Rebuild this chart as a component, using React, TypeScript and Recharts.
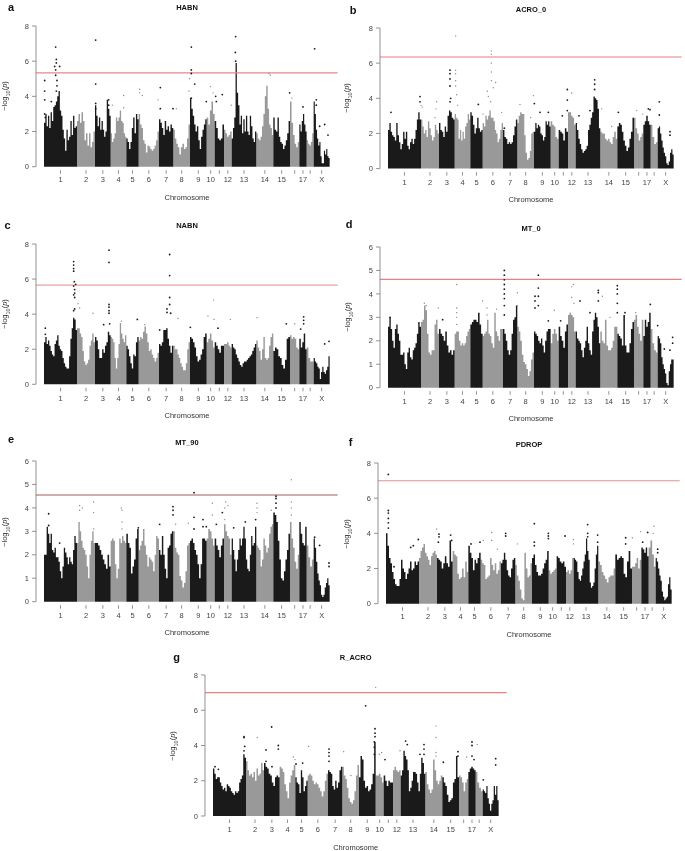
import { Area, ComposedChart, ReferenceLine, Scatter, XAxis, YAxis } from 'recharts'

// chromosome sizes, in 1/3 px of the plot
const CHR_LABELS = ['1', '2', '3', '4', '5', '6', '7', '8', '9', '10', '', '12', '13', '14', '15', '', '17', '', 'X']
const CHR_SIZES = [99, 54, 47, 47, 37, 61, 43, 50, 50, 24, 28, 23, 74, 51, 50, 28, 22, 21, 48]

const DARK = '#1a1a1a'
const GREY = '#999999'
const FONT = '"Liberation Sans", Arial, sans-serif'

// upper edge of the dense mass, one list per chromosome
const HABN_EDGE = [
  [2.5, 3.0, 2.3, 2.9, 2.2, 3.1, 2.6, 3.4, 3.5, 3.7, 4.0, 4.3, 3.2, 2.9, 2.1, 1.6, 0.9, 2.1, 1.5, 1.7, 2.6, 1.8, 2.9, 2.2, 2.3],
  [2.6, 3.0, 2.5, 3.1, 2.6, 1.5, 1.9, 1.2, 1.9, 1.1, 1.4, 2.0],
  [3.5, 2.9, 2.3, 2.8, 2.1, 2.6, 2.1, 1.7, 2.0, 3.8, 3.3, 2.9],
  [1.9, 1.4, 1.6, 1.9, 2.8, 2.6, 2.8, 3.2, 2.6, 2.5, 1.9, 1.7],
  [1.6, 1.4, 1.0, 1.4, 2.2, 2.8, 1.9, 3.0, 2.7],
  [3.0, 2.4, 2.2, 1.5, 1.3, 0.8, 1.2, 1.15, 1.0, 0.9, 1.0, 1.2, 1.5, 2.0],
  [2.7, 2.5, 2.2, 1.8, 2.6, 2.1, 2.3, 2.0, 2.4, 2.2],
  [2.1, 1.6, 1.3, 1.1, 0.7, 1.1, 1.3, 1.0, 1.1, 1.6, 2.4],
  [3.9, 3.3, 2.9, 2.4, 2.0, 2.3, 1.5, 1.0, 1.7, 2.1, 2.4, 2.7],
  [2.8, 2.4, 3.2, 3.7, 3.0],
  [2.6, 2.2, 1.6, 1.5, 1.6, 2.4],
  [2.1, 1.9, 1.7, 1.8, 2.0],
  [1.6, 2.2, 2.8, 5.9, 4.2, 3.5, 2.4, 2.9, 1.9, 2.7, 2.0, 2.9, 2.0, 1.8, 2.9, 2.3, 1.6, 1.4, 2.0],
  [1.9, 1.6, 1.5, 1.7, 2.3, 3.0, 4.0, 4.6, 3.3, 2.4, 2.2, 1.8],
  [2.8, 2.1, 2.0, 2.8, 1.7, 1.4, 1.3, 1.0, 1.2, 1.5, 1.9, 2.6],
  [3.7, 2.5, 1.8, 1.3, 1.1, 1.4],
  [2.4, 2.0, 2.6, 3.0, 2.4, 2.0],
  [1.5, 1.3, 1.2, 1.4, 1.9],
  [3.7, 3.0, 2.1, 1.6, 1.2, 1.4, 0.6, 0.2, 0.2, 0.9, 0.7, 1.0, 0.6, 0.5],
]
const ACRO_EDGE = [
  [2.2, 2.6, 2.1, 1.9, 1.8, 1.6, 2.6, 1.9, 1.5, 1.1, 1.4, 2.1, 1.7, 2.1, 1.3, 1.1, 1.5, 1.7, 1.4, 1.7, 2.2, 2.8, 3.2, 2.8],
  [2.8, 2.4, 2.0, 2.2, 1.8, 2.7, 2.3, 1.9, 1.6, 1.8, 2.5, 2.2, 2.0],
  [2.6, 2.2, 2.1, 1.8, 2.4, 2.1, 3.0, 3.3, 3.2, 2.9, 2.8],
  [3.1, 2.9, 2.8, 1.7, 2.2, 1.6, 2.1, 1.7, 2.4, 2.6, 3.1, 2.8],
  [3.2, 3.0, 2.5, 2.0, 2.3, 2.9, 2.3, 2.1, 2.2],
  [2.6, 2.4, 3.0, 2.8, 3.0, 3.3, 2.9, 2.9, 2.7, 2.2, 2.0, 1.5, 1.7, 2.2, 2.6],
  [2.2, 1.8, 1.7, 1.4, 1.5, 1.4, 1.5, 1.9, 2.4, 2.8],
  [2.6, 3.0, 3.2, 3.1, 3.1, 1.9, 0.9, 0.5, 0.6, 1.0, 2.0, 2.1],
  [2.1, 2.6, 2.3, 2.5, 2.4, 2.0, 1.9, 1.6, 1.8, 2.7, 2.5, 2.7, 2.4],
  [2.7, 2.5, 2.4, 1.8, 1.7],
  [2.2, 2.1, 2.0, 1.6, 2.3, 2.1],
  [3.2, 3.2, 3.0, 2.9, 2.5],
  [2.6, 2.2, 1.7, 1.4, 1.1, 0.9, 1.0, 1.1, 1.3, 2.2, 2.5, 2.9, 3.2, 4.1, 4.0, 3.9, 3.4, 2.3],
  [2.1, 2.0, 2.0, 1.7, 1.6, 1.7, 1.5, 1.4, 1.8, 2.1, 1.7],
  [2.4, 2.6, 2.5, 2.1, 1.6, 1.3, 1.0, 1.2, 1.7, 2.1, 2.9],
  [2.9, 2.3, 2.0, 1.6, 1.8, 2.0],
  [2.5, 2.7, 3.0, 2.7, 2.5],
  [2.5, 1.8, 1.4, 1.5],
  [2.3, 2.4, 2.0, 1.6, 1.2, 0.9, 0.7, 0.3, 0.2, 0.4, 0.9, 1.1, 0.8],
]
const NABN_EDGE = [
  [2.4, 2.7, 2.3, 2.5, 2.2, 1.9, 1.7, 1.6, 2.3, 2.5, 2.8, 2.2, 2.0, 1.9, 1.5, 1.2, 1.0, 0.9, 0.9, 1.6, 2.6, 3.2, 3.8, 3.7, 3.1],
  [3.2, 3.2, 2.9, 2.7, 1.9, 1.3, 1.1, 1.2, 1.4, 2.2, 2.5, 2.9, 2.4],
  [2.7, 2.5, 2.0, 1.5, 1.5, 2.0, 1.8, 2.2, 2.4, 3.0, 2.8],
  [2.7, 2.6, 2.4, 1.5, 0.9, 1.5, 2.3, 3.5, 2.9, 2.6, 2.4, 2.8],
  [2.2, 2.0, 1.6, 1.2, 0.9, 1.7, 1.6, 2.4, 2.7],
  [2.5, 2.7, 2.6, 3.0, 3.3, 2.9, 2.4, 1.9, 2.0, 1.7, 1.5, 1.3, 1.5, 1.8],
  [2.3, 2.2, 2.4, 3.1, 3.1, 3.2, 2.6, 2.2, 1.8, 2.2],
  [2.2, 2.0, 2.0, 1.7, 1.5, 1.2, 1.0, 0.8, 0.8, 1.2, 2.0, 2.4],
  [2.7, 2.6, 2.4, 2.1, 1.6, 1.3, 1.4, 1.7, 2.0, 2.7, 2.9],
  [2.4, 2.6, 2.9, 2.5, 2.1],
  [2.4, 2.2, 2.0, 1.8, 2.2, 2.2],
  [2.3, 2.3, 2.4, 2.2, 2.1],
  [2.3, 2.1, 2.0, 1.7, 1.5, 1.3, 1.1, 1.0, 1.2, 1.3, 1.3, 1.4, 1.5, 1.6, 1.7, 1.9, 2.1, 2.3],
  [2.5, 2.1, 1.9, 1.4, 2.0, 2.7, 1.5, 1.4, 1.5, 2.2, 2.7, 2.9],
  [1.9, 2.1, 2.0, 1.6, 1.5, 1.1, 0.9, 1.4, 2.6, 2.7],
  [2.8, 2.6, 2.7, 2.6, 2.1, 2.0],
  [2.6, 2.1, 2.4, 2.9, 2.0],
  [2.1, 1.5, 1.3, 1.3],
  [1.5, 1.3, 1.2, 1.0, 0.9, 0.3, 0.7, 1.0, 0.7, 0.6, 0.8, 1.0, 1.6],
]
const MT0_EDGE = [
  [2.6, 3.0, 2.5, 2.0, 1.7, 2.5, 2.7, 2.3, 2.0, 1.4, 1.4, 1.5, 1.0, 0.8, 1.5, 1.7, 1.3, 1.2, 1.6, 1.7, 1.9, 2.3, 2.8, 2.6],
  [2.8, 2.9, 3.5, 3.3, 2.3, 1.5, 1.4, 1.6, 1.6, 2.7, 2.9, 2.3],
  [2.5, 2.3, 2.2, 2.0, 2.4, 1.8, 1.5, 1.6, 1.4, 1.6],
  [2.3, 2.4, 2.4, 2.0, 1.8, 1.9, 1.8, 1.9, 2.2, 2.4, 2.5],
  [2.7, 2.8, 2.9, 2.9, 2.8, 3.2, 2.7, 2.3],
  [2.2, 2.3, 2.4, 2.9, 2.3, 2.2, 1.9, 1.7, 3.2, 2.4, 2.2, 2.0, 2.5, 2.5],
  [2.5, 2.3, 2.0, 1.6, 1.4, 1.6, 2.3, 2.9, 3.0, 3.5],
  [2.6, 2.4, 2.0, 1.4, 1.1, 1.0, 0.8, 0.5, 0.7, 1.2, 1.5],
  [2.4, 2.3, 2.2, 2.0, 1.9, 2.1, 1.8, 1.5, 2.0, 2.4, 2.5, 2.5],
  [1.9, 2.3, 2.5, 2.3, 2.0],
  [2.6, 2.2, 2.0, 1.7, 2.4, 2.7],
  [3.1, 3.2, 3.1, 3.0, 2.4],
  [2.4, 2.1, 2.0, 1.9, 1.6, 1.3, 1.7, 2.0, 2.6, 1.9, 1.6, 1.4, 2.4, 2.9, 3.2, 3.0, 2.6, 1.9],
  [2.4, 2.0, 1.9, 2.9, 1.8, 1.6, 1.6, 1.7, 2.0, 2.6, 2.6],
  [2.3, 2.2, 2.1, 1.8, 3.1, 1.8, 1.5, 1.5, 1.9, 2.5, 2.8],
  [2.9, 3.1, 2.6, 2.3, 2.0, 2.9],
  [2.2, 2.9, 2.6, 2.8, 3.2],
  [2.5, 1.9, 1.6, 1.5],
  [2.2, 2.1, 1.9, 1.3, 1.0, 0.8, 0.6, 0.2, 0.1, 0.7, 1.0, 1.2, 1.2],
]
const MT90_EDGE = [
  [2.0, 2.0, 3.2, 2.9, 2.5, 2.9, 2.2, 2.1, 2.3, 1.9, 1.9, 1.7, 1.3, 1.0, 1.5, 2.3, 2.1, 1.9, 1.6, 1.9, 1.7, 1.6, 2.2, 2.8, 2.5],
  [2.5, 3.4, 3.0, 2.6, 2.3, 2.2, 2.0, 1.5, 1.0, 2.0, 2.6, 3.0, 2.5],
  [2.5, 2.5, 2.4, 2.2, 2.0, 1.8, 1.6, 1.4, 2.0, 1.5],
  [2.6, 2.7, 2.6, 1.6, 1.0, 1.4, 2.7, 2.5, 2.8, 2.6, 2.5],
  [2.9, 2.5, 2.3, 1.2, 1.5, 1.8, 2.7, 3.1],
  [2.2, 2.4, 2.6, 3.1, 2.4, 2.0, 1.5, 1.9, 1.8, 1.7, 1.3, 2.0, 2.8, 2.7],
  [2.2, 2.0, 2.8, 2.0, 1.4, 1.0, 2.3, 2.4, 2.9, 3.0],
  [3.0, 2.3, 2.1, 2.0, 1.1, 0.9, 0.6, 0.8, 1.3, 2.4, 2.5],
  [2.6, 2.7, 2.5, 2.2, 2.0, 1.6, 1.0, 1.6, 2.7, 2.7, 2.6],
  [2.7, 3.1, 3.0, 2.7, 2.4],
  [2.7, 2.4, 2.2, 1.9, 2.4, 2.7],
  [3.3, 3.0, 2.8, 2.7, 2.0],
  [2.7, 2.2, 1.8, 1.3, 1.8, 2.2, 2.7, 2.4, 2.7, 3.2, 2.7, 1.8, 1.4, 1.3, 2.0, 2.8, 2.4, 2.5, 3.2],
  [2.4, 2.3, 2.2, 1.5, 1.8, 2.7, 2.4, 2.1, 2.3, 2.9, 3.2, 3.3],
  [3.8, 3.7, 3.4, 2.6, 1.8, 1.0, 0.9, 1.3, 1.8, 2.2, 2.9],
  [3.4, 2.7, 2.3, 1.7, 1.4, 2.0],
  [3.4, 2.9, 2.5, 2.4, 3.2],
  [2.4, 1.9, 1.5, 1.8],
  [2.7, 2.3, 1.7, 1.2, 0.9, 0.7, 0.3, 0.2, 0.3, 0.6, 0.8, 1.0, 0.7],
]
const PDROP_EDGE = [
  [4.0, 3.3, 2.6, 2.3, 1.8, 1.4, 1.1, 1.0, 1.0, 1.4, 2.5, 2.0, 1.8, 1.4, 1.7, 2.0, 2.4, 1.9, 2.0, 2.4, 2.2, 2.4],
  [2.6, 3.0, 3.2, 3.4, 2.9, 2.7, 2.5, 2.2, 2.7, 2.9, 3.0, 2.8],
  [2.6, 2.5, 2.4, 2.0, 2.3, 2.7, 2.3, 2.1, 3.6, 2.4],
  [3.0, 2.8, 2.7, 1.7, 1.4, 1.5, 2.0, 1.5, 2.4, 1.8],
  [3.3, 2.9, 2.6, 1.9, 2.5, 2.3, 2.6, 2.9],
  [2.5, 2.3, 2.2, 1.4, 1.5, 1.6, 2.6, 2.2, 1.9, 2.3, 1.7, 1.9, 2.4],
  [2.3, 2.5, 2.9, 2.5, 1.9, 1.6, 1.5, 2.0, 2.5, 2.6],
  [2.2, 1.6, 1.3, 0.8, 0.3, 0.2, 2.9, 2.0, 1.5, 1.6, 2.3],
  [2.6, 2.8, 2.2, 1.8, 1.6, 1.6, 1.7, 2.0, 2.3, 2.5, 3.0],
  [1.9, 1.7, 1.8, 1.9, 2.0],
  [2.7, 2.6, 2.4, 2.3, 2.4, 2.1],
  [1.8, 1.9, 1.7, 1.9, 2.6],
  [2.6, 2.5, 2.4, 1.8, 1.4, 1.3, 1.6, 2.0, 2.4, 2.8, 3.7, 3.0, 2.5, 1.2, 0.9, 1.0, 1.2, 2.0, 2.8, 3.3],
  [2.4, 2.2, 1.8, 1.6, 1.4, 1.2, 1.5, 1.6, 1.6, 2.0],
  [2.8, 2.5, 2.6, 2.7, 2.6, 1.7, 1.5, 2.4, 3.0, 2.0],
  [2.1, 2.1, 2.3, 2.6, 2.0, 2.5],
  [3.2, 3.1, 2.9, 3.2, 2.7],
  [3.2, 3.6, 2.8, 2.1],
  [2.6, 2.4, 2.0, 1.6, 1.3, 0.7, 0.4, 0.2, 0.3, 0.4, 1.1, 1.5, 0.8],
]
const RACRO_EDGE = [
  [2.7, 2.4, 2.1, 2.2, 2.2, 1.9, 1.7, 1.5, 1.6, 1.4, 1.8, 1.7, 1.6, 1.4, 1.3, 1.2, 1.4, 1.3, 1.4, 1.9, 2.1, 2.3, 3.5, 3.3],
  [3.1, 2.6, 2.3, 2.4, 2.2, 2.5, 2.0, 2.7, 2.3, 2.4, 3.0, 2.6],
  [3.0, 2.8, 2.7, 2.4, 2.3, 1.9, 1.7, 2.2, 2.3, 2.2],
  [2.8, 2.7, 2.5, 1.8, 1.4, 1.0, 1.9, 2.3, 2.6, 2.9],
  [2.2, 1.9, 1.8, 1.3, 2.6, 2.2, 1.4, 1.7, 2.0],
  [2.3, 2.4, 2.3, 2.0, 1.8, 1.9, 1.8, 1.6, 1.4, 1.1, 1.4, 2.0, 2.4],
  [2.6, 2.5, 2.4, 1.7, 1.5, 2.0, 1.6, 1.9, 2.6, 2.8],
  [2.8, 2.3, 2.1, 1.6, 1.0, 0.8, 0.7, 0.9, 1.4, 2.3, 2.9],
  [2.2, 3.4, 3.2, 2.0, 1.6, 1.7, 1.4, 1.5, 1.8, 2.4, 4.2],
  [2.3, 2.3, 2.4, 2.2, 1.9],
  [2.3, 2.0, 1.7, 2.0, 1.9, 1.9],
  [2.6, 2.8, 2.6, 2.5, 2.6],
  [2.3, 2.6, 3.7, 3.4, 3.2, 2.6, 1.4, 1.6, 2.0, 2.5, 2.5, 2.4, 1.9, 1.4, 2.4, 3.3, 3.0, 2.4],
  [2.5, 1.8, 1.5, 1.3, 1.5, 3.2, 2.6, 2.0, 1.8, 2.0, 2.3],
  [2.2, 1.9, 1.7, 1.2, 0.8, 0.9, 1.0, 1.9, 2.1, 3.4, 2.2],
  [2.3, 2.2, 1.9, 1.4, 1.9, 2.1],
  [2.5, 2.7, 2.8, 2.7, 2.6],
  [2.5, 1.9, 1.6, 1.4],
  [1.5, 1.4, 1.3, 1.7, 1.0, 0.7, 0.3, 0.7, 0.9, 1.7, 1.2, 1.7, 0.9],
]

// points standing clear of the mass: [position as read, -log10 p]
const HABN_HITS = [[135,4.9],[135,4.3],[135,3.8],[135,3.0],[137,2.8],[155,3.7],[168,6.8],[170,6.1],[170,5.9],[165,5.7],[180,5.7],[168,5.5],[168,5.2],[172,4.9],[172,4.6],[170,4.3],[288,7.2],[288,4.7],[288,3.6],[288,3.3],[327,3.8],[327,3.5],[338,3.5],[372,4.05],[372,3.35],[420,4.4],[420,4.2],[428,4.05],[475,3.8],[482,4.5],[482,3.3],[520,3.3],[530,3.3],[575,6.8],[575,5.5],[575,5.3],[570,5.0],[585,4.7],[568,4.3],[575,3.9],[620,3.7],[632,4.55],[640,4.2],[648,4.0],[650,3.7],[668,4.1],[695,3.5],[708,7.4],[707,6.5],[708,6.0],[808,5.3],[812,5.2],[870,4.2],[877,3.9],[910,3.4],[945,6.7],[950,3.8],[950,3.5],[975,2.4],[985,1.8],[960,2.3]]
const ACRO_HITS = [[148,3.2],[235,4.1],[235,3.8],[238,3.6],[242,3.5],[285,3.8],[283,3.4],[280,2.9],[325,5.6],[325,5.4],[325,5.1],[325,4.7],[327,4.0],[325,3.8],[342,7.55],[342,5.6],[342,5.4],[342,5.0],[342,4.7],[345,4.2],[348,3.6],[410,3.65],[424,3.1],[437,4.4],[440,4.1],[449,6.7],[449,6.5],[449,6.0],[449,5.5],[449,5.0],[462,4.9],[455,4.6],[447,3.8],[480,3.2],[488,2.3],[535,3.65],[575,4.15],[578,3.7],[567,2.9],[595,3.2],[620,3.2],[662,3.0],[677,4.5],[677,3.9],[690,4.3],[677,3.3],[712,3.0],[745,3.3],[759,5.05],[759,4.8],[759,4.5],[780,3.4],[810,2.4],[830,3.2],[885,3.3],[903,3.1],[920,3.4],[925,3.35],[953,3.8],[953,3.05],[985,2.1],[985,1.9]]
const NABN_HITS = [[137,3.2],[137,2.85],[222,7.0],[222,6.8],[222,6.6],[222,6.45],[224,5.85],[228,5.7],[222,5.6],[225,5.4],[225,5.2],[222,5.1],[225,4.95],[225,4.3],[222,4.2],[235,4.6],[240,4.35],[280,4.05],[312,3.4],[328,7.65],[328,6.95],[328,4.55],[328,4.4],[328,4.2],[328,4.05],[330,3.45],[365,3.6],[413,3.7],[435,3.4],[480,3.1],[510,7.4],[510,6.2],[510,4.95],[510,4.55],[502,4.3],[502,4.1],[513,4.05],[535,3.75],[572,3.25],[625,3.9],[642,4.8],[643,3.7],[655,3.2],[692,3.7],[772,3.8],[860,3.45],[885,3.45],[912,3.85],[912,3.65],[912,3.45],[903,3.15],[988,2.45],[975,2.3]]
const MT0_HITS = [[145,3.0],[248,3.6],[254,3.5],[290,3.4],[303,2.9],[345,4.4],[345,3.4],[345,3.2],[345,3.0],[345,2.7],[423,3.7],[436,3.4],[436,3.1],[465,3.35],[488,5.0],[488,4.8],[488,4.6],[488,4.4],[488,4.2],[488,4.0],[488,3.8],[488,3.5],[488,3.1],[527,4.05],[527,3.5],[590,4.8],[590,4.25],[590,3.9],[580,3.9],[580,3.7],[580,3.4],[590,3.5],[620,2.85],[638,3.3],[657,2.85],[690,4.3],[695,4.4],[690,3.85],[697,3.6],[715,3.7],[745,3.2],[770,4.15],[770,4.05],[770,3.7],[782,3.9],[805,3.0],[827,4.35],[827,4.2],[827,4.0],[827,3.6],[827,3.2],[850,3.2],[882,3.2],[926,3.55],[948,2.65],[993,2.15],[993,1.9],[968,1.65],[985,1.6]]
const MT90_HITS = [[147,3.75],[147,3.25],[180,2.5],[240,4.1],[248,4.0],[240,3.9],[282,4.25],[282,3.8],[282,3.1],[365,4.0],[367,3.9],[367,3.4],[367,3.1],[416,3.15],[480,3.3],[520,4.05],[520,3.9],[520,3.7],[528,3.3],[566,3.35],[583,4.65],[583,3.6],[583,3.1],[610,3.5],[610,3.2],[620,3.2],[638,4.2],[638,3.7],[650,3.3],[668,3.8],[675,4.0],[678,4.25],[685,4.1],[675,3.5],[702,3.15],[737,3.4],[772,4.2],[772,4.0],[772,3.8],[768,3.5],[815,3.9],[829,4.5],[829,4.4],[829,4.2],[829,4.0],[875,5.2],[875,4.25],[875,4.0],[875,3.7],[945,2.75],[960,2.4],[988,1.65],[988,1.5]]
const PDROP_HITS = [[140,7.35],[140,5.3],[140,5.15],[140,4.85],[140,4.6],[140,4.3],[157,2.1],[230,3.65],[207,3.2],[215,3.3],[285,4.25],[292,3.95],[292,3.8],[290,3.5],[327,3.9],[330,3.6],[388,3.4],[415,3.5],[425,3.6],[450,4.05],[450,3.6],[467,3.1],[492,4.0],[492,3.85],[527,3.4],[578,4.55],[578,3.5],[578,3.3],[620,4.0],[620,3.85],[620,3.7],[670,3.85],[695,3.65],[695,3.4],[738,4.5],[738,4.0],[738,3.8],[768,3.9],[768,3.5],[852,3.75],[852,3.4],[872,3.75],[897,4.1],[903,3.5],[918,4.05],[937,4.4],[935,4.0],[948,3.1],[948,2.9]]
const RACRO_HITS = [[135,2.8],[145,2.65],[222,4.5],[222,4.45],[224,3.95],[222,3.7],[262,4.45],[288,3.75],[288,3.1],[305,5.05],[325,4.0],[325,3.8],[306,2.8],[370,3.35],[375,3.2],[378,2.95],[398,3.0],[416,3.95],[477,3.8],[477,3.6],[477,3.4],[477,3.1],[521,3.65],[543,2.3],[587,6.25],[617,7.3],[615,4.95],[615,4.7],[615,4.5],[613,4.2],[613,3.9],[613,3.5],[628,3.5],[635,3.6],[645,3.2],[690,3.7],[707,4.25],[712,4.05],[750,3.5],[762,4.05],[762,3.8],[762,3.5],[798,5.1],[798,4.45],[798,3.6],[798,3.4],[820,3.05],[864,3.65],[864,3.4],[890,3.35],[906,4.2],[906,4.0],[922,4.05],[906,3.4],[912,3.2],[977,3.25],[977,2.9],[940,2.05]]

const PANELS = [
  { tag: 'a', title: 'HABN', edge: HABN_EDGE, hits: HABN_HITS, origin: 133, threshold: 5.33, line: '#ec8585', yMax: 8, left: 44.3, top: 26, bottom: 166.7, titleX: 187, titleY: 8, tickY: 180, chromY: 198, tagX: 11, tagY: 7, yLabelX: 5 },
  { tag: 'b', title: 'ACRO_0', edge: ACRO_EDGE, hits: ACRO_HITS, origin: 139, threshold: 6.35, line: '#ec7f7f', yMax: 8, left: 388.3, top: 27.7, bottom: 168.3, titleX: 531, titleY: 10, tickY: 182, chromY: 200, tagX: 353, tagY: 10, yLabelX: 347 },
  { tag: 'c', title: 'NABN', edge: NABN_EDGE, hits: NABN_HITS, origin: 133, threshold: 5.65, line: '#e9a3a3', yMax: 8, left: 44.3, top: 244, bottom: 384.3, titleX: 187, titleY: 225.7, tickY: 399, chromY: 416, tagX: 7.5, tagY: 225, yLabelX: 5 },
  { tag: 'd', title: 'MT_0', edge: MT0_EDGE, hits: MT0_HITS, origin: 139, threshold: 4.62, line: '#e88080', yMax: 6, left: 388.3, top: 247, bottom: 387.7, titleX: 531, titleY: 229, tickY: 401.7, chromY: 419, tagX: 349, tagY: 224, yLabelX: 348 },
  { tag: 'e', title: 'MT_90', edge: MT90_EDGE, hits: MT90_HITS, origin: 133, threshold: 4.55, line: '#a85a5a', yMax: 6, left: 44.3, top: 461.3, bottom: 602, titleX: 187, titleY: 443.3, tickY: 616, chromY: 633, tagX: 11, tagY: 439, yLabelX: 5 },
  { tag: 'f', title: 'PDROP', edge: PDROP_EDGE, hits: PDROP_HITS, origin: 133, threshold: 6.99, line: '#e49090', yMax: 8, left: 386.3, top: 463.3, bottom: 604, titleX: 529, titleY: 445, tickY: 617, chromY: 635, tagX: 350.7, tagY: 441.7, yLabelX: 347 },
  { tag: 'g', title: 'R_ACRO', edge: RACRO_EDGE, hits: RACRO_HITS, origin: 129, threshold: 7.0, line: '#ec8080', yMax: 8, left: 213, top: 675.3, bottom: 816.3, titleX: 355.7, titleY: 657.7, tickY: 830, chromY: 848, tagX: 176.7, tagY: 657, yLabelX: 173 },
]

const GENOME = CHR_SIZES.reduce((sum, size) => sum + size, 0)
const CHR_STARTS = CHR_SIZES.map((_, i) => CHR_SIZES.slice(0, i).reduce((sum, size) => sum + size, 0))
const CHR_MIDS = CHR_STARTS.map((start, i) => start + CHR_SIZES[i] / 2)
const PAD = 24 // R leaves this gap between the y axis and the first point

// each chromosome becomes a run of steps in its own colour
function buildRows(edge: number[][]) {
  const rows: Record<string, number>[] = []
  edge.forEach((values, c) => {
    const key = c % 2 === 0 ? 'dark' : 'grey'
    values.forEach((value, j) => {
      rows.push({ x: CHR_STARTS[c] + (CHR_SIZES[c] * j) / values.length, [key]: value })
    })
    rows.push({ x: CHR_STARTS[c] + CHR_SIZES[c], [key]: values[values.length - 1] })
  })
  return rows
}

function isDark(pos: number) {
  const c = CHR_STARTS.findIndex((start, i) => pos >= start && pos < start + CHR_SIZES[i])
  return c % 2 === 0
}

const Caption = ({ x, y, style, children }: any) => (
  <div
    style={{
      position: 'absolute',
      left: x,
      top: y,
      transform: 'translate(-50%, -50%)',
      fontFamily: FONT,
      fontSize: 7.5,
      color: '#333',
      whiteSpace: 'nowrap',
      lineHeight: 1,
      ...style,
    }}
  >
    {children}
  </div>
)

function ChrTick({ x, y, index, tickOffset }: any) {
  return (
    <g>
      <line x1={x} x2={x} y1={y + 3.5} y2={y + 7} stroke="#777" strokeWidth={0.8} />
      <text x={x} y={y + tickOffset} textAnchor="middle" dominantBaseline="central" fontSize={7.5} fontFamily={FONT} fill="#444">
        {CHR_LABELS[index]}
      </text>
    </g>
  )
}

const Dot = (r: number, fill: string) => (props: any) => <circle cx={props.cx} cy={props.cy} r={r} fill={fill} />

function Manhattan({ panel }: { panel: (typeof PANELS)[number] }) {
  const rows = buildRows(panel.edge)
  const hits = panel.hits.map(([pos, y]) => ({ x: pos - panel.origin, y }))
  const axisX = panel.left - PAD / 3
  const plotHeight = panel.bottom - panel.top
  const yTicks = panel.yMax === 8 ? [0, 2, 4, 6, 8] : [0, 1, 2, 3, 4, 5, 6]

  return (
    <div style={{ position: 'absolute', left: axisX - 30, top: panel.top - 4 }}>
      <ComposedChart
        width={30 + (GENOME + 2 * PAD) / 3 + 2}
        height={plotHeight + 4 + 30}
        data={rows}
        margin={{ top: 4, right: 2, bottom: 0, left: 0 }}
      >
        <XAxis
          dataKey="x"
          type="number"
          domain={[-PAD, GENOME + PAD]}
          ticks={CHR_MIDS}
          interval={0}
          axisLine={false}
          tickLine={false}
          tickSize={0}
          tickMargin={0}
          height={30}
          tick={<ChrTick tickOffset={panel.tickY - panel.bottom} />}
        />
        <YAxis
          dataKey="y"
          type="number"
          domain={[0, panel.yMax]}
          ticks={yTicks}
          interval={0}
          width={30}
          axisLine={{ stroke: '#777', strokeWidth: 0.8 }}
          tickLine={{ stroke: '#777', strokeWidth: 0.8 }}
          tickSize={4}
          tickMargin={3}
          tick={{ fontSize: 7.5, fontFamily: FONT, fill: '#444' }}
        />
        <Area dataKey="grey" type="stepAfter" fill={GREY} fillOpacity={1} stroke="none" dot={false} activeDot={false} isAnimationActive={false} />
        <Area dataKey="dark" type="stepAfter" fill={DARK} fillOpacity={1} stroke="none" dot={false} activeDot={false} isAnimationActive={false} />
        <Scatter data={hits.filter((p) => !isDark(p.x))} shape={Dot(0.7, '#8a8a8a')} isAnimationActive={false} />
        <Scatter data={hits.filter((p) => isDark(p.x))} shape={Dot(0.9, DARK)} isAnimationActive={false} />
        <ReferenceLine y={panel.threshold} stroke={panel.line} strokeWidth={1.2} />
      </ComposedChart>
    </div>
  )
}

export default function App() {
  return (
    <div style={{ position: 'absolute', left: 0, top: 0, width: 685, height: 851, background: '#fff', overflow: 'hidden', filter: 'blur(0.3px)' }}>
      {PANELS.map((panel) => (
        <div key={panel.tag}>
          <Manhattan panel={panel} />
          <Caption x={panel.tagX} y={panel.tagY} style={{ fontSize: 11, fontWeight: 700, color: '#111' }}>
            {panel.tag}
          </Caption>
          <Caption x={panel.titleX} y={panel.titleY} style={{ fontWeight: 700, color: '#111' }}>
            {panel.title}
          </Caption>
          <Caption x={panel.titleX} y={panel.chromY}>
            Chromosome
          </Caption>
          <Caption
            x={panel.yLabelX}
            y={(panel.top + panel.bottom) / 2}
            style={{ transform: 'translate(-50%, -50%) rotate(-90deg)' }}
          >
            −log<sub style={{ fontSize: 5.5, lineHeight: 0 }}>10</sub>(<i>p</i>)
          </Caption>
        </div>
      ))}
    </div>
  )
}
